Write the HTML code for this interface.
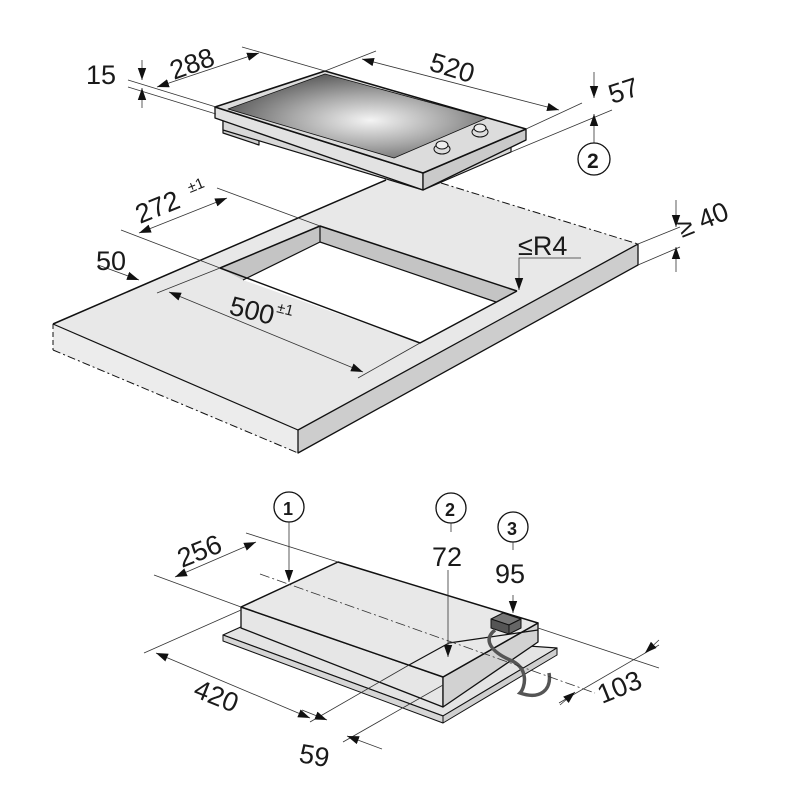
<!DOCTYPE html>
<html><head><meta charset="utf-8"><style>
html,body{margin:0;padding:0;background:#fff}
svg{display:block}
text{font-family:"Liberation Sans",sans-serif;fill:#1a1a1a}
</style></head><body>
<svg width="800" height="800" viewBox="0 0 800 800" xmlns="http://www.w3.org/2000/svg">
<defs>
<marker id="a" viewBox="0 0 10 10" refX="10" refY="5" markerWidth="12" markerHeight="12" orient="auto-start-reverse" markerUnits="userSpaceOnUse"><path d="M0,1.5 L10,5 L0,8.5 Z" fill="#111"/></marker>
<radialGradient id="g" cx="0.55" cy="0.55" r="0.6"><stop offset="0" stop-color="#f4f4f4"/><stop offset="0.5" stop-color="#a8a8a8"/><stop offset="1" stop-color="#555"/></radialGradient>
</defs>

<!-- COUNTERTOP -->
<g stroke="#111" stroke-linejoin="round">
<polygon points="53,324 386,180 441,183 638,244 298,430" fill="#e8e8e8" stroke="none"/>
<polygon points="53,324 298,430 298,453 53,350" fill="#ececec" stroke="none"/>
<polygon points="638,244 298,430 298,453 638,265" fill="#cdcdcd" stroke-width="1.3"/>
<line x1="53" y1="324" x2="386" y2="180" stroke-width="1.5"/>
<line x1="53" y1="324" x2="298" y2="430" stroke-width="1.2"/>
<line x1="441" y1="183" x2="638" y2="244" stroke-width="1" stroke-dasharray="8,3,2,3"/>
<line x1="53" y1="324" x2="53" y2="350" stroke-width="1" stroke-dasharray="5,3"/>
<line x1="53" y1="350" x2="298" y2="453" stroke-width="1" stroke-dasharray="8,3,2,3"/>
<polygon points="320,226 220,268 243,280 320,242" fill="#c4c4c4" stroke="none"/>
<polygon points="320,226 517,291 496,302 320,242" fill="#c4c4c4" stroke="none"/>
<polygon points="320,242 243,280 420,343 496,302" fill="#fff" stroke="none"/>
<polyline points="517,291 320,226 220,268 420,343 517,291" fill="none" stroke-width="1.5"/>
<line x1="320" y1="226" x2="320" y2="242" stroke-width="1.2"/>
<polyline points="243,280 320,242 496,302" fill="none" stroke-width="1.2"/>
</g>

<!-- HOB -->
<g stroke="#111" stroke-linejoin="round">
<polygon points="223,112 259,125 259,145 223,133" fill="#cfcfcf" stroke-width="1.2"/>
<polygon points="223,112 423,173 511,135 511,152 423,190 223,130" fill="#d8d8d8" stroke-width="1.2"/>
<polygon points="215,107 423,173 423,190 215,118" fill="#e2e2e2" stroke-width="1.3"/>
<polygon points="423,173 526,129 526,140 423,190" fill="#cacaca" stroke-width="1.3"/>
<polygon points="215,107 325,71 526,129 423,173" fill="#dcdcdc" stroke-width="1.6"/>
<polygon points="228,109 325,74 487,118 394,158" fill="url(#g)" stroke-width="0.8"/>
<ellipse cx="442" cy="149" rx="8" ry="5" fill="#ddd" stroke-width="1"/>
<ellipse cx="442" cy="145" rx="6" ry="4" fill="#eee" stroke-width="1"/>
<ellipse cx="480" cy="132" rx="8" ry="5" fill="#ddd" stroke-width="1"/>
<ellipse cx="480" cy="128" rx="6" ry="4" fill="#eee" stroke-width="1"/>
</g>

<g stroke="#333" stroke-width="0.8" fill="none">
<line x1="128" y1="80" x2="216" y2="107"/>
<line x1="128" y1="87" x2="216" y2="114"/>
<line x1="242" y1="47" x2="325" y2="71"/>
<line x1="325" y1="71" x2="376" y2="51"/>
<line x1="157" y1="87" x2="259" y2="53" marker-start="url(#a)" marker-end="url(#a)"/>
<line x1="362" y1="59" x2="559" y2="110" marker-start="url(#a)" marker-end="url(#a)"/>
<line x1="142" y1="60" x2="142" y2="80" marker-end="url(#a)"/>
<line x1="142" y1="108" x2="142" y2="88" marker-end="url(#a)"/>
<line x1="526" y1="129" x2="582" y2="103"/>
<line x1="511" y1="152" x2="612" y2="110"/>
<line x1="594" y1="72" x2="594" y2="98" marker-end="url(#a)"/>
<line x1="594" y1="143" x2="594" y2="114" marker-end="url(#a)"/>
<circle cx="594" cy="159" r="16" stroke="#111" stroke-width="1.3"/>
<line x1="217" y1="188" x2="320" y2="226"/>
<line x1="121" y1="230" x2="220" y2="268"/>
<line x1="139" y1="233" x2="227" y2="198" marker-start="url(#a)" marker-end="url(#a)"/>
<line x1="98" y1="265" x2="139" y2="280" marker-end="url(#a)"/>
<line x1="157" y1="293" x2="220" y2="268"/>
<line x1="169" y1="292" x2="363" y2="372" marker-start="url(#a)" marker-end="url(#a)"/>
<line x1="358" y1="378" x2="420" y2="343"/>
<polyline points="581,258 519,258 519,290" marker-end="url(#a)"/>
<line x1="638" y1="244" x2="680" y2="227"/>
<line x1="638" y1="265" x2="680" y2="247"/>
<line x1="676" y1="200" x2="676" y2="227" marker-end="url(#a)"/>
<line x1="676" y1="272" x2="676" y2="247" marker-end="url(#a)"/>
</g>
<g font-size="27">
<text x="86" y="84">15</text>
<text x="0" y="0" transform="translate(174,80) rotate(-20)">288</text>
<text x="0" y="0" transform="translate(428,70) rotate(17)">520</text>
<text x="612" y="104" transform="rotate(-18 612 104)">57</text>
<text x="587" y="168" font-size="21" font-weight="bold">2</text>
<text x="0" y="0" transform="translate(140,224) rotate(-22)">272</text>
<text x="0" y="0" font-size="15" transform="translate(190,193) rotate(-22)">±1</text>
<text x="96" y="270">50</text>
<text x="0" y="0" transform="translate(228,314) rotate(14)">500</text>
<text x="0" y="0" font-size="15" transform="translate(276,312) rotate(14)">±1</text>
<text x="518" y="255">≤R4</text>
<text x="0" y="0" transform="translate(682,238) rotate(-22)">≥ 40</text>
</g>

<!-- BOTTOM UNIT -->
<g stroke="#111" stroke-linejoin="round">
<polygon points="223,635 243,626 557,648 443,716" fill="#e4e4e4" stroke-width="1.2"/>
<polygon points="223,635 443,716 443,723 223,641" fill="#d6d6d6" stroke-width="1"/>
<polygon points="443,716 557,648 557,655 443,723" fill="#cfcfcf" stroke-width="1"/>
<polygon points="241,607 443,677 443,707 241,628" fill="#e6e6e6" stroke-width="1.3"/>
<polygon points="443,677 538,623 538,642 443,707" fill="#d2d2d2" stroke-width="1.3"/>
<polygon points="241,607 338,562 538,623 443,677" fill="#e8e8e8" stroke-width="1.5"/>
<polyline points="409,665 449,643 538,630" fill="none" stroke-width="1.2"/>
<polygon points="491,619 503,613 521,619 509,625" fill="#777" stroke-width="1"/>
<polygon points="491,619 509,625 509,634 491,628" fill="#555" stroke-width="1"/>
<polygon points="509,625 521,619 521,628 509,634" fill="#666" stroke-width="1"/>
</g>
<path d="M495,630 C482,640 492,652 510,660 C530,668 525,688 520,693 C540,700 552,690 549,673" fill="none" stroke="#555" stroke-width="3.5"/>
<g stroke="#333" stroke-width="0.8" fill="none">
<line x1="260" y1="574" x2="595" y2="693" stroke-dasharray="10,3,2,3"/>
<circle cx="289" cy="507" r="15" stroke="#111" stroke-width="1.3"/>
<line x1="289" y1="522" x2="289" y2="582" marker-end="url(#a)"/>
<circle cx="451" cy="508" r="15" stroke="#111" stroke-width="1.3"/>
<line x1="451" y1="523" x2="451" y2="532"/>
<line x1="448" y1="570" x2="448" y2="657" marker-end="url(#a)"/>
<circle cx="513" cy="527" r="15" stroke="#111" stroke-width="1.3"/>
<line x1="513" y1="542" x2="513" y2="550"/>
<line x1="513" y1="595" x2="513" y2="613" marker-end="url(#a)"/>
<line x1="246" y1="533" x2="338" y2="562"/>
<line x1="154" y1="575" x2="241" y2="607"/>
<line x1="175" y1="577" x2="256" y2="542" marker-start="url(#a)" marker-end="url(#a)"/>
<line x1="144" y1="653" x2="241" y2="610"/>
<line x1="156" y1="653" x2="310" y2="718" marker-start="url(#a)" marker-end="url(#a)"/>
<line x1="310" y1="722" x2="409" y2="665"/>
<line x1="343" y1="742" x2="443" y2="685"/>
<line x1="302" y1="710" x2="327" y2="720" marker-end="url(#a)"/>
<line x1="382" y1="749" x2="347" y2="736" marker-end="url(#a)"/>
<line x1="538" y1="628" x2="659" y2="668"/>
<line x1="559" y1="703" x2="659" y2="645"/>
<line x1="659" y1="640" x2="645" y2="653" marker-end="url(#a)"/>
<line x1="560" y1="705" x2="575" y2="692" marker-end="url(#a)"/>
</g>
<g font-size="27">
<text x="283" y="515" font-size="18" font-weight="bold">1</text>
<text x="445" y="516" font-size="18" font-weight="bold">2</text>
<text x="507" y="535" font-size="18" font-weight="bold">3</text>
<text x="432" y="566">72</text>
<text x="495" y="583">95</text>
<text x="0" y="0" transform="translate(182,568) rotate(-22)">256</text>
<text x="0" y="0" transform="translate(192,696) rotate(22)">420</text>
<text x="0" y="0" transform="translate(298,762) rotate(10)">59</text>
<text x="0" y="0" transform="translate(602,704) rotate(-22)">103</text>
</g>
</svg>
</body></html>
